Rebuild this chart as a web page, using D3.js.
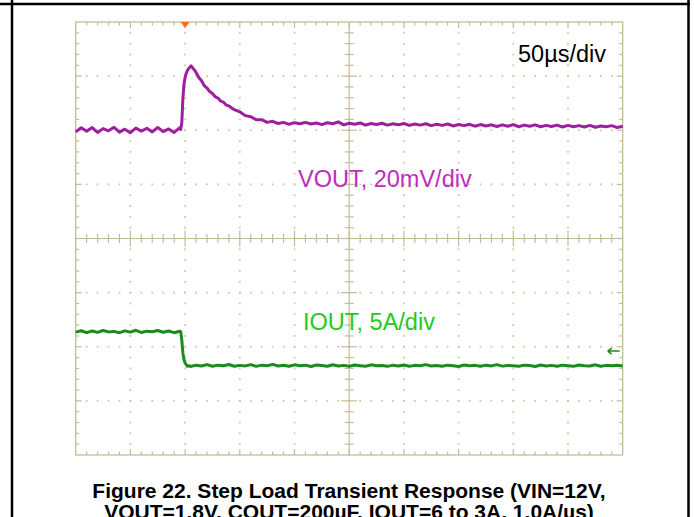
<!DOCTYPE html>
<html>
<head>
<meta charset="utf-8">
<script src="https://cdn.jsdelivr.net/npm/d3@7"></script>
<style>
  html, body { margin: 0; padding: 0; background: #fff; }
  svg { display: block; font-family: "Liberation Sans", Arial, sans-serif; }
</style>
</head>
<body>
<svg id="chart" width="694" height="517"></svg>
<script>
// ---------------- DATA ----------------
// time axis: 10 divisions x 50 us/div
const timeDomain = [0, 500];           // us
const timePerDiv = 50;                 // us/div
const vPerDiv = 20;                    // mV/div
const iPerDiv = 5;                     // A/div
const voutDomain = [-120, 40];         // mV (8 divisions)
const ioutDomain = [-5.4, 34.6];       // A  (8 divisions)
const triggerTime = 100;               // us
const ioutRefMarker = 4.2;             // A (channel marker)

// VOUT deviation (mV)
const voutTime = [
  0,5,10,15,20,25,30,35,40,45,50,55,60,65,70,75,80,85,90,95,
  96,97,98,99,100,101,102,104,105.5,107,108.5,110,
  112.5,115,117.5,120,122.5,125,127.5,130,132.5,135,137.5,140,
  145,150,155,160,165,170,175,180,185,190,195,200,205,210,215,220,225,230,235,240,
  245,250,255,260,265,270,275,280,285,290,295,300,305,310,315,320,325,330,335,340,
  345,350,355,360,365,370,375,380,385,390,395,400,405,410,415,420,425,430,435,440,
  445,450,455,460,465,470,475,480,485,490,495,500
];
const voutValues = [
  -0.6,0.9,-0.4,1.0,-0.8,0.6,-0.2,1.1,-0.7,0.4,-0.9,0.8,-0.3,0.7,-0.6,1.0,-0.5,0.5,-0.8,0.9,
  0.3,3,12,17,19.5,21,22,23.2,23.8,23,22.3,21.4,
  19.5,18.3,16.5,15.6,14.3,13.6,12.4,11.9,10.8,10.4,9.3,9.0,
  7.6,6.8,5.4,5.0,3.9,3.9,2.9,3.3,2.5,2.9,2.2,2.8,2.4,2.9,2.3,2.7,2.1,2.8,2.4,3.1,
  2.0,2.6,2.2,2.7,1.9,2.5,2.1,2.6,1.9,2.4,2.0,2.5,1.8,2.3,1.9,2.4,1.7,2.2,1.8,2.3,
  1.6,2.1,1.7,2.2,1.5,2.1,1.6,2.0,1.4,2.0,1.5,2.1,1.3,1.9,1.5,2.0,1.3,1.8,1.4,1.9,
  1.2,1.8,1.3,1.7,1.2,1.8,1.1,1.6,1.3,1.7,1.0,1.5
];

// IOUT (A)
const ioutTime = [
  0,5,10,15,20,25,30,35,40,45,50,55,60,65,70,75,80,85,90,95,
  96,97,98,99,100,102,104,
  105,110,115,120,125,130,135,140,145,150,155,160,165,170,175,180,185,190,195,200,
  205,210,215,220,225,230,235,240,245,250,255,260,265,270,275,280,285,290,295,300,
  305,310,315,320,325,330,335,340,345,350,355,360,365,370,375,380,385,390,395,400,
  405,410,415,420,425,430,435,440,445,450,455,460,465,470,475,480,485,490,495,500
];
const ioutValues = [
  5.95,6.08,5.9,6.05,5.93,6.1,5.97,6.02,5.9,6.07,5.95,6.12,5.92,6.04,5.98,6.1,5.94,6.06,5.9,6.03,
  6.0,5.2,4.0,3.4,3.1,2.8,2.85,
  2.78,2.9,2.82,2.95,2.8,2.9,2.84,2.96,2.8,2.88,2.83,2.95,2.79,2.9,2.85,2.97,2.82,2.89,2.8,2.93,
  2.84,2.9,2.78,2.92,2.86,2.8,2.94,2.83,2.88,2.79,2.91,2.85,2.8,2.93,2.84,2.87,2.79,2.9,2.83,2.92,
  2.8,2.88,2.84,2.95,2.82,2.87,2.8,2.9,2.85,2.78,2.92,2.84,2.88,2.8,2.9,2.83,2.95,2.81,2.87,2.84,
  2.8,2.9,2.86,2.78,2.92,2.83,2.88,2.8,2.9,2.84,2.79,2.91,2.85,2.82,2.93,2.8,2.88,2.84,2.9,2.83
];

// Labels
const timebaseLabel = "50µs/div";
const voutLabel = "VOUT, 20mV/div";
const ioutLabel = "IOUT, 5A/div";
const captionLines = [
  "Figure 22. Step Load Transient Response (VIN=12V,",
  "VOUT=1.8V, COUT=200µF, IOUT=6 to 3A, 1.0A/µs)"
];

// ---------------- DRAW ----------------
const svg = d3.select("#chart");
const W = 694, H = 517;
svg.append("rect").attr("width", W).attr("height", H).attr("fill", "#fff");

const plot = { left: 75.7, right: 622.7, top: 22, bottom: 455 };
const x = d3.scaleLinear().domain(timeDomain).range([plot.left, plot.right]);
const yV = d3.scaleLinear().domain(voutDomain).range([plot.bottom, plot.top]);
const yI = d3.scaleLinear().domain(ioutDomain).range([plot.bottom, plot.top]);
// graticule scale in divisions
const nX = (timeDomain[1] - timeDomain[0]) / timePerDiv;  // 10
const nY = (voutDomain[1] - voutDomain[0]) / vPerDiv;      // 8
const gx = d3.scaleLinear().domain([0, nX]).range([plot.left, plot.right]);
const gy = d3.scaleLinear().domain([0, nY]).range([plot.top, plot.bottom]);

const gridCol = "#c4bc98";
const dotCol = "#cfc8aa";
const grat = svg.append("g");

// dotted major grid lines
const minorX = d3.range(0, nX * 5 + 1).map(d => d / 5);
const minorY = d3.range(0, nY * 5 + 1).map(d => d / 5);
for (let i = 1; i < nX; i++) {
  if (i === nX / 2) continue;
  grat.selectAll(null).data(minorY.slice(1, -1)).enter().append("rect")
    .attr("x", gx(i) - 0.9).attr("y", d => gy(d) - 0.9)
    .attr("width", 1.8).attr("height", 1.8).attr("fill", dotCol);
}
for (let j = 1; j < nY; j++) {
  if (j === nY / 2) continue;
  grat.selectAll(null).data(minorX.slice(1, -1)).enter().append("rect")
    .attr("x", d => gx(d) - 0.9).attr("y", gy(j) - 0.9)
    .attr("width", 1.8).attr("height", 1.8).attr("fill", dotCol);
}

// border
grat.append("rect")
  .attr("x", plot.left).attr("y", plot.top)
  .attr("width", plot.right - plot.left).attr("height", plot.bottom - plot.top)
  .attr("fill", "none").attr("stroke", gridCol).attr("stroke-width", 1.3);

// center lines
grat.append("line").attr("x1", gx(nX / 2)).attr("x2", gx(nX / 2))
  .attr("y1", plot.top).attr("y2", plot.bottom).attr("stroke", gridCol).attr("stroke-width", 1.2);
grat.append("line").attr("y1", gy(nY / 2)).attr("y2", gy(nY / 2))
  .attr("x1", plot.left).attr("x2", plot.right).attr("stroke", gridCol).attr("stroke-width", 1.2);

// ticks on edges and center lines
const isMajor = d => Math.abs(d - Math.round(d)) < 1e-6;
minorX.slice(1, -1).forEach(d => {
  const len = isMajor(d) ? 6 : 3.5;
  const xx = gx(d);
  grat.append("line").attr("x1", xx).attr("x2", xx).attr("y1", plot.top).attr("y2", plot.top + len)
    .attr("stroke", gridCol).attr("stroke-width", 1.2);
  grat.append("line").attr("x1", xx).attr("x2", xx).attr("y1", plot.bottom).attr("y2", plot.bottom - len)
    .attr("stroke", gridCol).attr("stroke-width", 1.2);
  const cl = isMajor(d) ? 8 : 4.5;
  grat.append("line").attr("x1", xx).attr("x2", xx).attr("y1", gy(nY / 2) - cl).attr("y2", gy(nY / 2) + cl)
    .attr("stroke", gridCol).attr("stroke-width", 1.2);
});
minorY.slice(1, -1).forEach(d => {
  const len = isMajor(d) ? 6 : 3.5;
  const yy = gy(d);
  grat.append("line").attr("y1", yy).attr("y2", yy).attr("x1", plot.left).attr("x2", plot.left + len)
    .attr("stroke", gridCol).attr("stroke-width", 1.2);
  grat.append("line").attr("y1", yy).attr("y2", yy).attr("x1", plot.right).attr("x2", plot.right - len)
    .attr("stroke", gridCol).attr("stroke-width", 1.2);
  const cl = isMajor(d) ? 8 : 4.5;
  grat.append("line").attr("y1", yy).attr("y2", yy).attr("x1", gx(nX / 2) - cl).attr("x2", gx(nX / 2) + cl)
    .attr("stroke", gridCol).attr("stroke-width", 1.2);
});

// trigger marker
const tx = x(triggerTime);
svg.append("path")
  .attr("d", `M${tx - 4.5},${plot.top} L${tx + 4.5},${plot.top} L${tx},${plot.top + 6} Z`)
  .attr("fill", "#ff6a1e");

// traces
const vData = voutTime.map((t, i) => [t, voutValues[i]]);
const iData = ioutTime.map((t, i) => [t, ioutValues[i]]);
svg.append("path").datum(vData)
  .attr("d", d3.line().x(d => x(d[0])).y(d => yV(d[1])))
  .attr("fill", "none").attr("stroke", "#9e1e9e").attr("stroke-width", 3)
  .attr("stroke-linejoin", "round");
svg.append("path").datum(iData)
  .attr("d", d3.line().x(d => x(d[0])).y(d => yI(d[1])))
  .attr("fill", "none").attr("stroke", "#1d8a1d").attr("stroke-width", 3)
  .attr("stroke-linejoin", "round");

// channel reference arrow (IOUT)
const ay = yI(ioutRefMarker);
const ax = plot.right - 3;
svg.append("path")
  .attr("d", `M${ax - 12},${ay} L${ax},${ay} M${ax - 12},${ay} L${ax - 8},${ay - 3} M${ax - 12},${ay} L${ax - 8},${ay + 3}`)
  .attr("stroke", "#1d8a1d").attr("stroke-width", 1.5).attr("fill", "none");

// labels
svg.append("text").attr("x", 518).attr("y", 61.5)
  .attr("font-size", 23.5).attr("fill", "#000").text(timebaseLabel);
svg.append("text").attr("x", 298).attr("y", 186.5)
  .attr("font-size", 23.5).attr("fill", "#c02cc0").text(voutLabel);
svg.append("text").attr("x", 303).attr("y", 330)
  .attr("font-size", 23.5).attr("fill", "#20cc20").text(ioutLabel);

// caption (second line is cut by the bottom edge, as in the reference)
svg.append("g").selectAll("text").data(captionLines).enter().append("text")
  .attr("x", 349).attr("y", (d, i) => 498 + i * 21)
  .attr("text-anchor", "middle").attr("font-weight", "bold").attr("font-size", 21)
  .attr("fill", "#000").text(d => d);

// page frame lines
svg.append("line").attr("x1", 0).attr("x2", 690).attr("y1", 4).attr("y2", 4)
  .attr("stroke", "#000").attr("stroke-width", 2.5);
svg.append("line").attr("x1", 12).attr("x2", 12).attr("y1", 0).attr("y2", H)
  .attr("stroke", "#000").attr("stroke-width", 2.5);
svg.append("line").attr("x1", 688.5).attr("x2", 688.5).attr("y1", 0).attr("y2", H)
  .attr("stroke", "#000").attr("stroke-width", 2.5);
</script>
</body>
</html>
